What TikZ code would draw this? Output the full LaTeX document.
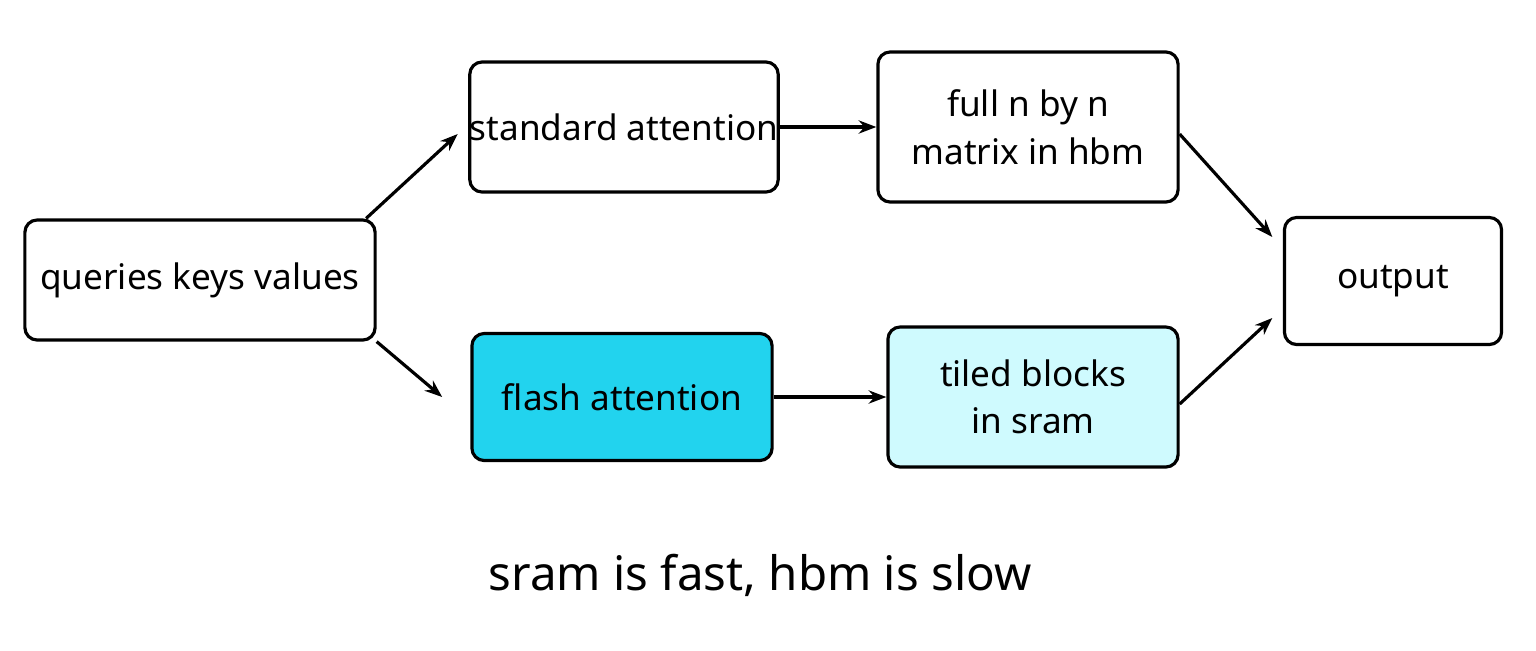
\documentclass[tikz,border=0pt]{standalone}
\usepackage{fontspec}
\setmainfont{Noto Sans}
\usetikzlibrary{positioning, arrows.meta}
\definecolor{flashFill}{HTML}{22D3EE}
\definecolor{tiledFill}{HTML}{CFFAFE}
\tikzset{
    box/.style = {draw, line width=0.9pt, rounded corners=3.5pt, align=center, font=\fontsize{10}{13.5}\selectfont, inner sep=0pt},
    flow/.style = {-{Stealth[length=5pt]}, line width=0.9pt}
}
\begin{document}
\begin{tikzpicture}[x=0.01cm, y=0.01cm]
            \useasboundingbox (0,0) rectangle (1536,650);

            \node[box, minimum width=3.5cm, minimum height=1.2cm] (qkv) at (200,370) {queries keys values};
            \node[box, minimum width=3.02cm, minimum height=1.3cm] (std) at (624,523) {standard attention};
            \node[box, minimum width=3.0cm, minimum height=1.5cm] (full) at (1028,523) {full n by n\\matrix in hbm};
            \node[box, fill=flashFill, minimum width=3.0cm, minimum height=1.27cm] (flash) at (622,253) {flash attention};
            \node[box, fill=tiledFill, minimum width=2.9cm, minimum height=1.4cm] (tiled) at (1033,253) {tiled blocks\\in sram};
            \node[box, minimum width=2.17cm, minimum height=1.27cm] (out) at (1393,369) {output};

            \node[font=\fontsize{13.5}{16}\selectfont] (note) at (760,75) {sram is fast, hbm is slow};

            \draw[flow] ([xshift=-3pt]qkv.north east) -- ([xshift=-3pt,yshift=-2pt]std.west);
            \draw[flow] (qkv.south east) -- ([xshift=-8pt]flash.west);
            \draw[flow] (std) -- (full);
            \draw[flow] (flash) -- (tiled);
            \draw[flow] ([yshift=-2pt]full.east) -- ([shift={(-3pt,-6pt)}]out.north west);
            \draw[flow] ([yshift=-2pt]tiled.east) -- ([shift={(-3pt,8pt)}]out.south west);

\end{tikzpicture}
\end{document}
